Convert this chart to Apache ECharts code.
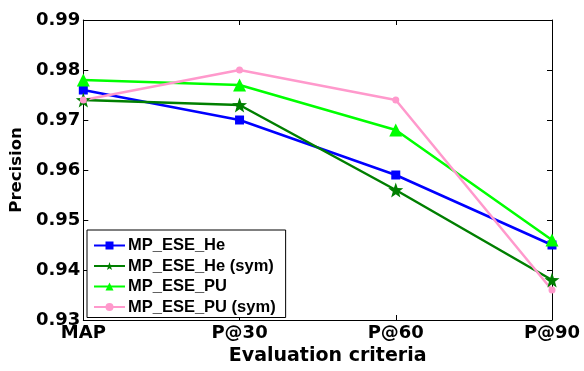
<!DOCTYPE html>
<html><head><meta charset="utf-8">
<script src="https://cdn.jsdelivr.net/npm/echarts@6/dist/echarts.min.js"></script>
<style>html,body{margin:0;padding:0;background:#fff}#c{width:584px;height:371px}</style>
</head><body><div id="c"></div>
<script>
const categories = ['MAP', 'P@30', 'P@60', 'P@90'];
const seriesNames = ['MP_ESE_He', 'MP_ESE_He (sym)', 'MP_ESE_PU', 'MP_ESE_PU (sym)'];
const heValues = [0.976, 0.970, 0.959, 0.945];
const heSymValues = [0.974, 0.973, 0.956, 0.938];
const puValues = [0.978, 0.977, 0.968, 0.946];
const puSymValues = [0.974, 0.980, 0.974, 0.936];
const yTicks = [0.93, 0.94, 0.95, 0.96, 0.97, 0.98, 0.99];

const star = 'path://M0,-10 L2.35,-3.24 L9.51,-3.09 L3.80,1.24 L5.88,8.09 L0,4.2 L-5.88,8.09 L-3.80,1.24 L-9.51,-3.09 L-2.35,-3.24Z';
const tickFont = {fontFamily: 'DejaVu Sans', fontWeight: 'bold', fontSize: 18, color: '#000'};

function mk(name, data, color, symbol, size) {
  return {
    name: name, type: 'line', data: data, symbol: symbol, symbolSize: size,
    showSymbol: true, z: 3,
    lineStyle: {color: color, width: 2.5},
    itemStyle: {color: color, borderWidth: 0}
  };
}

const chart = echarts.init(document.getElementById('c'), null, {renderer: 'canvas'});
chart.setOption({
  animation: false,
  backgroundColor: '#fff',
  grid: {left: 82, right: 32, top: 20, bottom: 46, containLabel: false},
  legend: {
    orient: 'vertical', left: 87, top: 230,
    data: seriesNames,
    backgroundColor: '#fff', borderColor: '#000', borderWidth: 1,
    padding: [7, 10, 2, 6],
    itemWidth: 31, itemHeight: 10, itemGap: 3.5,
    textStyle: {fontFamily: 'Liberation Sans', fontWeight: 'bold', fontSize: 16.5, lineHeight: 15, color: '#000', padding: [0, 0, 0, -2]}
  },
  xAxis: [{
    type: 'category', data: categories, boundaryGap: false,
    axisLine: {lineStyle: {color: '#000', width: 1}},
    axisTick: {inside: true, length: 5, alignWithLabel: true, lineStyle: {color: '#000'}},
    axisLabel: Object.assign({margin: 4}, tickFont),
    splitLine: {show: false},
    name: 'Evaluation criteria', nameLocation: 'middle', nameGap: 27,
    nameTextStyle: {fontFamily: 'DejaVu Sans', fontWeight: 'bold', fontSize: 19, color: '#000', padding: [0, 0, 0, 20]}
  }, {
    type: 'category', data: categories, boundaryGap: false, position: 'top',
    axisLine: {lineStyle: {color: '#000', width: 1}},
    axisTick: {inside: true, length: 5, lineStyle: {color: '#000'}},
    axisLabel: {show: false}, splitLine: {show: false}
  }],
  yAxis: [{
    type: 'value', min: yTicks[0], max: yTicks[yTicks.length - 1], interval: 0.01,
    axisLine: {show: true, lineStyle: {color: '#000', width: 1}},
    axisTick: {show: true, inside: true, length: 5, lineStyle: {color: '#000'}},
    axisLabel: Object.assign({margin: 3, formatter: v => v.toFixed(2)}, tickFont),
    splitLine: {show: false},
    name: 'Precision', nameLocation: 'middle', nameGap: 43, nameRotate: 90,
    nameTextStyle: {fontFamily: 'DejaVu Sans', fontWeight: 'bold', fontSize: 16.5, color: '#000'}
  }, {
    type: 'value', min: yTicks[0], max: yTicks[yTicks.length - 1], interval: 0.01, position: 'right',
    axisLine: {show: true, lineStyle: {color: '#000', width: 1}},
    axisTick: {show: true, inside: true, length: 5, lineStyle: {color: '#000'}},
    axisLabel: {show: false}, splitLine: {show: false}
  }],
  series: [
    mk(seriesNames[0], heValues, '#0000ff', 'rect', 9),
    mk(seriesNames[1], heSymValues, '#007f00', star, 15),
    mk(seriesNames[2], puValues, '#00ff00', 'triangle', 13),
    mk(seriesNames[3], puSymValues, '#ff99cc', 'circle', 7)
  ]
});
</script></body></html>
